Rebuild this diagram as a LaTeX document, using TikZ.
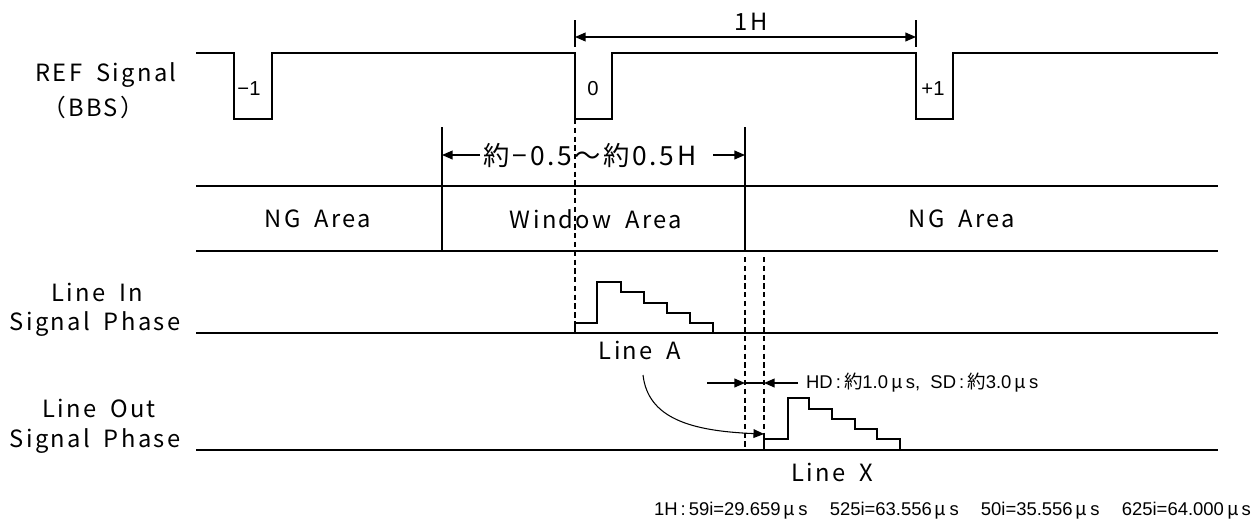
\documentclass[tikz,border=0pt]{standalone}
\usepackage{fontspec}
\setmainfont{Noto Sans CJK JP}[LetterSpace=10, WordSpace=1.8]
\newfontfamily\jpfont{Noto Sans CJK JP}
\newfontfamily\notefont{Liberation Sans}
\newcommand{\jp}[1]{{\jpfont #1}}
\newcommand{\mus}{\,\jp{μ}\,s}
\usetikzlibrary{arrows.meta}
\begin{document}
\begin{tikzpicture}[x=0.02cm, y=-0.02cm, line cap=butt, line join=miter,
    wave/.style={line width=0.85pt},
    guide/.style={dashed, dash pattern=on 3pt off 2pt, line width=0.6pt},
    dim/.style={line width=0.7pt},
    arr/.style={-{Triangle[length=6pt, width=5pt]}, line width=0.7pt},
    lbl/.style={inner sep=1pt, font=\fontsize{13.5}{15}\selectfont},
    tag/.style={inner sep=1pt, font=\notefont\fontsize{11.5}{13}\selectfont},
    note/.style={inner sep=1pt, font=\notefont\fontsize{10.5}{12}\selectfont}]
  \useasboundingbox (0,0) rectangle (1255,524);
  \node[lbl] (refA) at (106,75) {REF Signal};
  \node[lbl] (refB) at (93,107) {（BBS）};
  \node[lbl] (inA) at (97,292) {Line In};
  \node[lbl] (inB) at (95,324) {Signal Phase};
  \node[lbl] (outA) at (99,408) {Line Out};
  \node[lbl] (outB) at (95,441) {Signal Phase};
  \draw[wave] (196,53) -- (234,53) -- (234,119) -- (272,119) -- (272,53)
    -- (575,53) -- (575,119) -- (612,119) -- (612,53)
    -- (916,53) -- (916,119) -- (953,119) -- (953,53) -- (1218,53);
  \node[tag] (pm) at (249,89) {−1};
  \node[tag] (pz) at (593,89) {0};
  \node[tag] (pp) at (933,89) {+1};
  \coordinate (hL) at (575,37);
  \coordinate (hR) at (916,37);
  \draw[dim] (575,20) -- (575,47);
  \draw[dim] (916,20) -- (916,47);
  \draw[arr, {Triangle[length=6pt, width=5pt]}-{Triangle[length=6pt, width=5pt]}] (hL) -- (hR);
  \node[lbl] (oneH) at (751,22) {1H};
  \coordinate (wL) at (442,155);
  \coordinate (wR) at (745,155);
  \draw[dim] (442,127) -- (442,186);
  \draw[dim] (745,127) -- (745,186);
  \draw[arr] (480,155) -- (wL);
  \draw[arr] (713,155) -- (wR);
  \node[lbl, font=\fontsize{15}{17}\selectfont] (wtxt) at (590,155) {約−0.5～約0.5H};
  \draw[wave] (196,186) -- (1218,186);
  \draw[wave] (196,251) -- (1218,251);
  \draw[wave] (442,186) -- (442,251);
  \draw[wave] (745,186) -- (745,251);
  \node[lbl] (ngL) at (318,219) {NG Area};
  \node[lbl] (win) at (596,219) {Window Area};
  \node[lbl] (ngR) at (962,219) {NG Area};
  \draw[guide] (575,119) -- (575,333);
  \draw[guide] (745,257) -- (745,448);
  \draw[guide] (764,257) -- (764,448);
  \draw[wave] (196,333) -- (1218,333);
  \draw[wave] (575,333) -- (575,323) -- (597,323) -- (597,282) -- (621,282)
    -- (621,292) -- (644,292) -- (644,303) -- (667,303) -- (667,313)
    -- (690,313) -- (690,323) -- (713,323) -- (713,333);
  \node[lbl] (lineA) at (640,350) {Line A};
  \draw[wave] (196,450) -- (1218,450);
  \draw[wave] (764,450) -- (764,439) -- (788,439) -- (788,398) -- (809,398)
    -- (809,409) -- (832,409) -- (832,419) -- (855,419) -- (855,429)
    -- (877,429) -- (877,439) -- (900,439) -- (900,450);
  \node[lbl] (lineX) at (832,472) {Line X};
  \coordinate (tgt) at (764,434);
  \draw[arr, line width=0.6pt] (643,375) .. controls (648,418) and (690,431) .. (tgt);
  \draw[arr] (707,383) -- (745,383);
  \draw[dim] (745,383) -- (764,383);
  \draw[arr] (798,383) -- (764,383);
  \node[note, anchor=west] (hd) at (804,383) {HD\,:\,\jp{約}1.0\mus,\ \ SD\,:\,\jp{約}3.0\mus};
  \node[note, anchor=east] (foot) at (1253,511)
    {1H\,:\,59i=29.659\mus\hspace{1.2em}525i=63.556\mus\hspace{1.2em}50i=35.556\mus\hspace{1.2em}625i=64.000\mus};
\end{tikzpicture}
\end{document}
